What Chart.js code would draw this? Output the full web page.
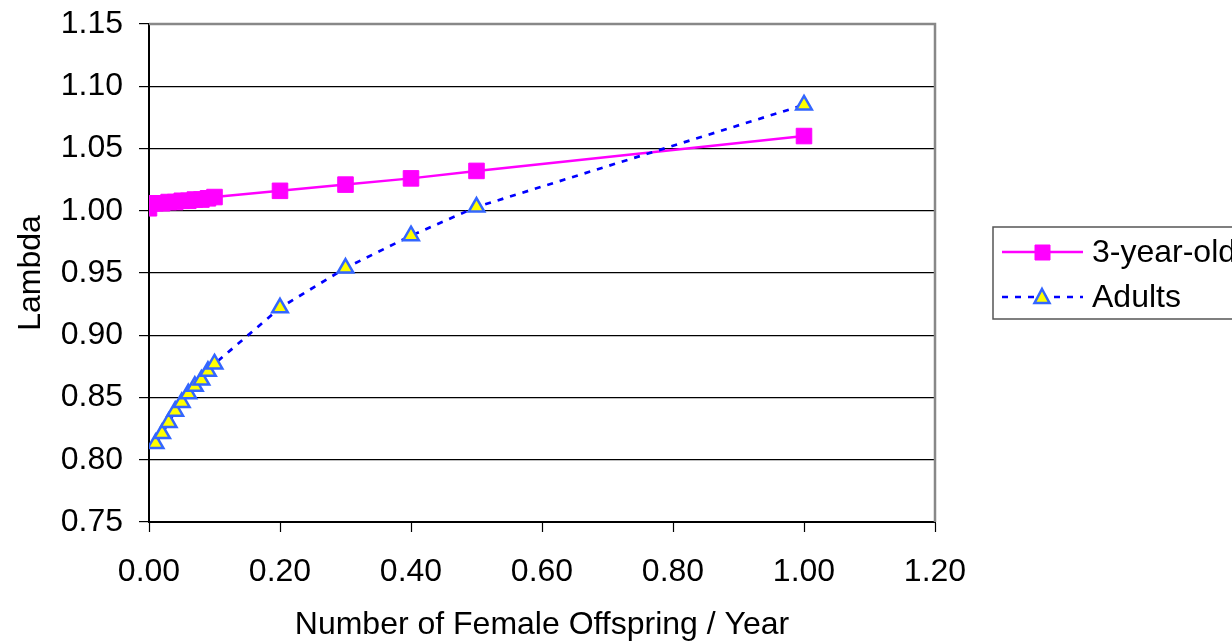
<!DOCTYPE html>
<html>
<head>
<meta charset="utf-8">
<script src="https://cdn.jsdelivr.net/npm/chart.js@4/dist/chart.umd.min.js"></script>
<style>
  html, body { margin: 0; padding: 0; background: #fff; }
  #wrap { width: 1232px; height: 644px; }
</style>
</head>
<body>
<div id="wrap"><canvas id="c" width="1232" height="644"></canvas></div>
<script>
// ---- data ----
const seriesNames = ["3-year-old", "Adults"];
const xThree = [0.00, 0.01, 0.02, 0.03, 0.04, 0.05, 0.06, 0.07, 0.08, 0.09, 0.10, 0.20, 0.30, 0.40, 0.50, 1.00];
const yThree = [1.002, 1.006, 1.006, 1.007, 1.007, 1.008, 1.008, 1.009, 1.009, 1.010, 1.011, 1.016, 1.021, 1.026, 1.032, 1.060];
const xAdults = [0.01, 0.02, 0.03, 0.04, 0.05, 0.06, 0.07, 0.08, 0.09, 0.10, 0.20, 0.30, 0.40, 0.50, 1.00];
const yAdults = [0.813, 0.821, 0.830, 0.839, 0.846, 0.853, 0.859, 0.864, 0.871, 0.877, 0.922, 0.954, 0.980, 1.003, 1.085];
const xTicks = [0.00, 0.20, 0.40, 0.60, 0.80, 1.00, 1.20];
const yTicks = [0.75, 0.80, 0.85, 0.90, 0.95, 1.00, 1.05, 1.10, 1.15];
const xTitle = "Number of Female Offspring / Year";
const yTitle = "Lambda";

const FONT = "'Liberation Sans', Arial, sans-serif";
const FS = 32;
const magenta = "#FF00FF";
const triFill = "#FFFF00";
const triEdge = "#3366FF";
const dashBlue = "#0000FF";

const toPts = (xs, ys) => xs.map((x, i) => ({ x: x, y: ys[i] }));

const frame = {
  id: "frame",
  afterDatasetsDraw(chart) {
    const { ctx, chartArea: a } = chart;
    ctx.save();
    ctx.strokeStyle = "#888888";
    ctx.lineWidth = 2.5;
    ctx.beginPath();
    ctx.moveTo(a.left, a.top);
    ctx.lineTo(a.right, a.top);
    ctx.lineTo(a.right, a.bottom);
    ctx.stroke();
    ctx.restore();
  }
};

const legendBox = {
  id: "legendBox",
  afterDraw(chart) {
    const ctx = chart.ctx;
    ctx.save();
    ctx.strokeStyle = "#555555";
    ctx.lineWidth = 1.5;
    ctx.strokeRect(993, 227, 260, 92);
    ctx.font = FS + "px " + FONT;
    ctx.fillStyle = "#000";
    ctx.textBaseline = "middle";
    ctx.textAlign = "left";
    // entry 1
    let y = 252;
    ctx.strokeStyle = magenta; ctx.lineWidth = 2.5; ctx.setLineDash([]);
    ctx.beginPath(); ctx.moveTo(1002, y); ctx.lineTo(1083, y); ctx.stroke();
    ctx.fillStyle = magenta; ctx.strokeStyle = magenta; ctx.lineWidth = 1;
    ctx.beginPath(); ctx.rect(1035, y - 7, 15, 15); ctx.fill(); ctx.stroke();
    ctx.fillStyle = "#000";
    ctx.fillText(seriesNames[0], 1092, y + 1);
    // entry 2
    y = 297;
    ctx.strokeStyle = dashBlue; ctx.lineWidth = 2.7; ctx.setLineDash([6, 7]);
    ctx.beginPath(); ctx.moveTo(1002, y); ctx.lineTo(1083, y); ctx.stroke();
    ctx.setLineDash([]);
    ctx.fillStyle = triFill; ctx.strokeStyle = triEdge; ctx.lineWidth = 2.5;
    ctx.beginPath();
    ctx.moveTo(1042, y - 8); ctx.lineTo(1049.5, y + 6); ctx.lineTo(1034.5, y + 6); ctx.closePath();
    ctx.fill(); ctx.stroke();
    ctx.fillStyle = "#000";
    ctx.fillText(seriesNames[1], 1092, y + 1);
    ctx.restore();
  }
};

new Chart(document.getElementById("c"), {
  type: "scatter",
  data: {
    datasets: [
      {
        label: seriesNames[0],
        data: toPts(xThree, yThree),
        showLine: true,
        borderColor: magenta,
        borderWidth: 2.5,
        backgroundColor: magenta,
        pointStyle: "rect",
        pointRadius: 11,
        pointBorderWidth: 1,
        pointBorderColor: magenta,
        pointBackgroundColor: magenta,
        tension: 0,
        order: 2
      },
      {
        label: seriesNames[1],
        data: toPts(xAdults, yAdults),
        showLine: true,
        borderColor: dashBlue,
        borderWidth: 2.7,
        borderDash: [6, 7],
        pointStyle: "triangle",
        pointRadius: 9,
        pointBorderWidth: 2.5,
        pointBorderColor: triEdge,
        pointBackgroundColor: triFill,
        tension: 0,
        order: 1
      }
    ]
  },
  options: {
    responsive: false,
    animation: false,
    devicePixelRatio: 1,
    layout: { padding: { top: 24, right: 297, left: 0, bottom: 0 } },
    plugins: { legend: { display: false }, tooltip: { enabled: false } },
    scales: {
      x: {
        type: "linear",
        min: 0, max: 1.2,
        afterFit(s) { s.height = 122; s.paddingLeft = 0; s.paddingRight = 0; },
        afterBuildTicks(s) { s.ticks = xTicks.map(v => ({ value: v })); },
        ticks: {
          color: "#000",
          font: { family: FONT, size: FS },
          padding: 21,
          maxRotation: 0,
          callback: v => Number(v).toFixed(2)
        },
        grid: { drawOnChartArea: false, drawTicks: true, tickLength: 10, tickColor: "#000", tickWidth: 1.2 },
        border: { display: true, color: "#000", width: 2 },
        title: { display: true, text: xTitle, color: "#000", font: { family: FONT, size: FS }, padding: { top: 0, bottom: 0 } }
      },
      y: {
        type: "linear",
        min: 0.75, max: 1.15,
        afterFit(s) { s.width = 149; s.paddingTop = 0; s.paddingBottom = 0; },
        afterBuildTicks(s) { s.ticks = yTicks.map(v => ({ value: v })); },
        ticks: {
          color: "#000",
          font: { family: FONT, size: FS },
          padding: 16,
          callback: v => Number(v).toFixed(2)
        },
        grid: { drawOnChartArea: true, color: "#000", lineWidth: 1.2, drawTicks: true, tickLength: 10, tickColor: "#000", tickWidth: 1.2 },
        border: { display: true, color: "#000", width: 2 },
        title: { display: true, text: yTitle, color: "#000", font: { family: FONT, size: FS }, padding: { top: 12, bottom: 0 } }
      }
    }
  },
  plugins: [frame, legendBox]
});
</script>
</body>
</html>
